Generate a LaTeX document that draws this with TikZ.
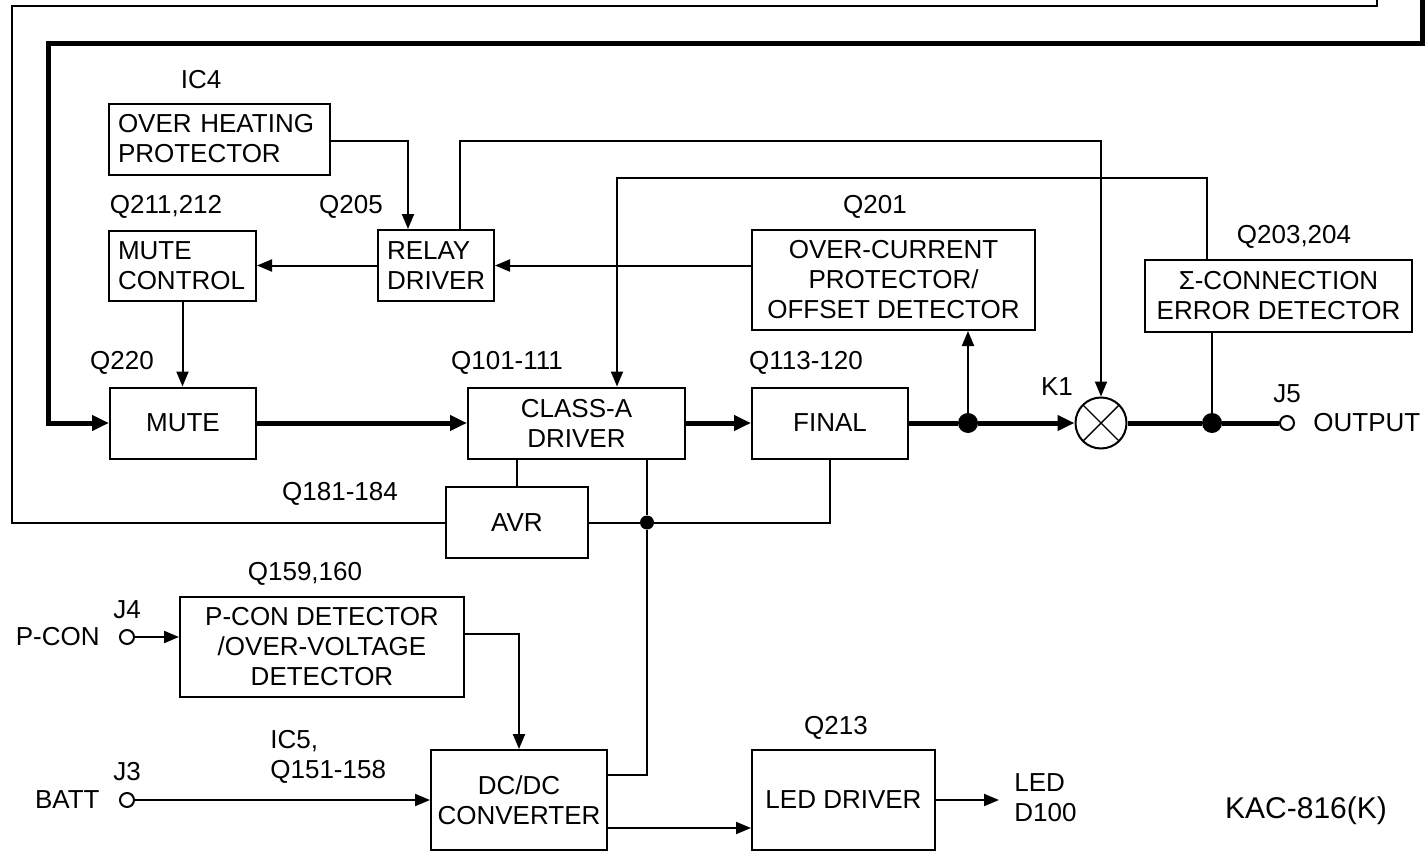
\documentclass[tikz,border=0pt]{standalone}
\usepackage{fontspec}
\setmainfont{Liberation Sans}
\usetikzlibrary{positioning,calc}
\usetikzlibrary{arrows.meta}
\tikzset{
  blk/.style={draw=black,line width=1pt,inner sep=0pt,align=center},
  lblk/.style={blk,align=left,inner xsep=4.5pt},
  lbl/.style={inner sep=0pt,align=center},
  ln/.style={draw=black,line width=1pt},
  sig/.style={draw=black,line width=2.5pt},
  arr/.style={ln,-{Triangle[length=7.5pt,width=6pt]}},
  sarr/.style={sig,-{Triangle[length=8.5pt,width=7.5pt]}},
}
\tikzset{dot/.style={circle,fill=black,inner sep=0pt,minimum size=10pt}, term/.style={circle,draw=black,fill=white,line width=1pt,inner sep=0pt,minimum size=7pt},
  xrel/.style={circle,draw=black,line width=1pt,inner sep=0pt,minimum size=25.5pt,
    path picture={\draw[line width=0.7pt] (path picture bounding box.north west) -- (path picture bounding box.south east) (path picture bounding box.north east) -- (path picture bounding box.south west);}}}

\begin{document}
\begin{tikzpicture}[x=0.5pt,y=-0.5pt,font=\fontsize{13}{15}\selectfont]
\useasboundingbox (0,0) rectangle (1426,851);
\node[lblk,text width=101.5pt,minimum height=35.5pt] (ohp) at (219.5,139) {OVER HEATING\\PROTECTOR};
\node[lblk,text width=64.5pt,minimum height=35pt] (mctl) at (182.5,265.5) {MUTE\\CONTROL};
\node[lblk,text width=49pt,minimum height=35.5pt] (relay) at (436,265.5) {RELAY\\DRIVER};
\node[blk,minimum width=141.5pt,minimum height=50pt] (ocp) at (893.5,280) {OVER-CURRENT\\PROTECTOR/\\OFFSET DETECTOR};
\node[blk,minimum width=133.5pt,minimum height=36pt] (sce) at (1278.5,296) {Σ-CONNECTION\\ERROR DETECTOR};
\node[blk,minimum width=73pt,minimum height=35.5pt] (mute) at (183,423) {MUTE};
\node[blk,minimum width=108.5pt,minimum height=35.5pt] (drv) at (576.5,423) {CLASS-A\\DRIVER};
\node[blk,minimum width=78pt,minimum height=35.5pt] (fin) at (830,423) {FINAL};
\node[blk,minimum width=71pt,minimum height=35.5pt] (avr) at (517,522.5) {AVR};
\node[blk,minimum width=142pt,minimum height=50pt] (pcon) at (322,647) {P-CON DETECTOR\\/OVER-VOLTAGE\\DETECTOR};
\node[blk,minimum width=88pt,minimum height=50pt] (dcdc) at (519,800) {DC/DC\\CONVERTER};
\node[blk,minimum width=91.5pt,minimum height=50pt] (led) at (843.5,800) {LED DRIVER};
\node[dot] (d1) at (968,423) {};
\node[dot] (d2) at (1212,423) {};
\node[dot,minimum size=7pt] (d3) at (647,522.5) {};
\node[xrel] (k1) at (1101,423) {};
\node[term] (j5) at (1287,423) {};
\node[term] (j4) at (127,637) {};
\node[term] (j3) at (127,800) {};
\coordinate (t1) at (1377,0);
\coordinate (t2) at (1377,6);
\coordinate (t3) at (12,6);
\coordinate (b1) at (1422,0);
\coordinate (b2) at (1422,43);
\coordinate (b3) at (48,43);
\coordinate (oh) at (408,141);
\coordinate (rt) at (460,141);
\coordinate (kt) at (1101,141);
\coordinate (st) at (1207,178);
\coordinate (dt) at (617,178);
\coordinate (dc1) at ([yshift=12.5pt]dcdc.east);
\coordinate (dc2) at ([yshift=-14pt]dcdc.east);
\coordinate (d100) at (999,800);
\draw[ln] (t1) -- (t2) -- (t3) -- (t3 |- avr.west) -- (avr.west);
\draw[sarr] (b1) -- (b2) -- (b3) -- (b3 |- mute.west) -- (mute.west);
\draw[arr] (ohp.east |- oh) -- (oh) -- (oh |- relay.north);
\draw[arr] (relay.north -| rt) -- (rt) -- (kt) -- (k1.north);
\draw[arr] (sce.north -| st) -- (st) -- (dt) -- (dt |- drv.north);
\draw[arr] (ocp.west |- relay.east) -- (relay.east);
\draw[arr] (relay.west) -- (mctl.east);
\draw[arr] (mctl.south) -- (mctl.south |- mute.north);
\draw[sarr] (mute.east) -- (drv.west);
\draw[sarr] (drv.east) -- (fin.west);
\draw[sig] (fin.east) -- (d1);
\draw[sarr] (d1) -- (k1.west);
\draw[arr] (d1) -- (d1 |- ocp.south);
\draw[sig] (k1.east) -- (d2) -- (j5.west);
\draw[ln] (sce.south -| d2) -- (d2);
\draw[ln] (avr.north) -- (avr.north |- drv.south);
\draw[ln] (drv.south -| d3) -- (d3) -- (dc1 -| d3) -- (dc1);
\draw[ln] (avr.east) -- (d3) -- (d3 -| fin.south) -- (fin.south);
\draw[arr] (j4.east) -- (j4 -| pcon.west);
\draw[arr] ([yshift=6.5pt]pcon.east) -| (dcdc.north);
\draw[arr] (j3.east) -- (j3 -| dcdc.west);
\draw[arr] (dc2) -- (dc2 -| led.west);
\draw[arr] (led.east) -- (d100);
\node[lbl] (ic4) at (201,80) {IC4};
\node[lbl] (q211) at (166,207) {Q211,212};
\node[lbl] (q205) at (351,207) {Q205};
\node[lbl] (q201) at (875,207) {Q201};
\node[lbl] (q203) at (1294,237) {Q203,204};
\node[lbl] (q220) at (122,363) {Q220};
\node[lbl] (q101) at (507,363) {Q101-111};
\node[lbl] (q113) at (806,363) {Q113-120};
\node[lbl] (k1l) at (1057,387) {K1};
\node[lbl] (j5l) at (1287,394) {J5};
\node[lbl,anchor=west] (outl) at (1313,423) {OUTPUT};
\node[lbl] (q181) at (340,494) {Q181-184};
\node[lbl] (q159) at (305,574) {Q159,160};
\node[lbl] (j4l) at (127,610) {J4};
\node[lbl,anchor=east] (pconl) at (100,637) {P-CON};
\node[lbl,anchor=west,align=left] (ic5) at (270,757) {IC5,\\Q151-158};
\node[lbl] (j3l) at (127,772) {J3};
\node[lbl,anchor=east] (battl) at (100,800) {BATT};
\node[lbl] (q213) at (836,728) {Q213};
\node[lbl,anchor=west,align=left] (ledl) at (1014,798) {LED\\D100};
\node[lbl,font=\fontsize{15}{18}\selectfont] (kac) at (1306,811) {KAC-816(K)};
\end{tikzpicture}
\end{document}
